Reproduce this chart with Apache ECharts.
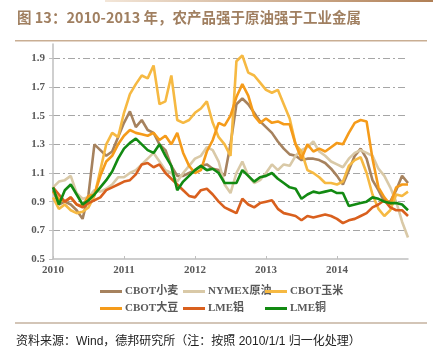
<!DOCTYPE html>
<html>
<head>
<meta charset="utf-8">
<script src="https://cdn.jsdelivr.net/npm/echarts@6/dist/echarts.min.js"></script>
<style>
html,body{margin:0;padding:0;background:#fff;}
#chart{width:433px;height:355px;}
</style>
</head>
<body>
<div id="chart"></div>
<script>
var months = ['2010-01','2010-02','2010-03','2010-04','2010-05','2010-06','2010-07','2010-08','2010-09','2010-10','2010-11','2010-12',
'2011-01','2011-02','2011-03','2011-04','2011-05','2011-06','2011-07','2011-08','2011-09','2011-10','2011-11','2011-12',
'2012-01','2012-02','2012-03','2012-04','2012-05','2012-06','2012-07','2012-08','2012-09','2012-10','2012-11','2012-12',
'2013-01','2013-02','2013-03','2013-04','2013-05','2013-06','2013-07','2013-08','2013-09','2013-10','2013-11','2013-12',
'2014-01','2014-02','2014-03','2014-04','2014-05','2014-06','2014-07','2014-08','2014-09','2014-10','2014-11','2014-12',
'2015-01'];

var yTicks = [0.5,0.7,0.9,1.1,1.3,1.5,1.7,1.9];

var wheat = [0.98,0.88,0.90,0.88,0.84,0.78,0.95,1.30,1.26,1.22,1.25,1.35,1.45,1.53,1.42,1.47,1.40,1.38,1.30,1.26,1.15,1.08,1.08,1.10,1.12,1.15,1.16,1.13,1.12,1.08,1.30,1.58,1.62,1.58,1.52,1.46,1.42,1.38,1.32,1.27,1.23,1.22,1.19,1.20,1.20,1.19,1.17,1.13,1.08,1.02,1.12,1.22,1.27,1.20,1.05,0.98,0.90,0.90,0.98,1.08,1.03];
var crude = [1.00,1.04,1.05,1.08,0.96,0.92,0.93,0.98,0.97,0.99,1.02,1.07,1.07,1.10,1.12,1.16,1.20,1.24,1.18,1.12,1.10,1.04,1.10,1.15,1.20,1.22,1.28,1.26,1.18,1.02,0.96,1.10,1.18,1.08,1.03,1.05,1.10,1.16,1.12,1.16,1.15,1.22,1.26,1.28,1.32,1.25,1.22,1.18,1.16,1.14,1.20,1.24,1.26,1.24,1.22,1.13,1.08,1.00,0.90,0.76,0.65];
var corn = [0.93,0.85,0.88,0.84,0.82,0.83,0.86,0.94,1.12,1.30,1.38,1.35,1.52,1.65,1.72,1.78,1.76,1.85,1.58,1.60,1.78,1.47,1.45,1.47,1.52,1.55,1.60,1.45,1.35,1.30,1.22,1.88,1.92,1.80,1.78,1.73,1.68,1.66,1.68,1.58,1.48,1.30,1.25,1.12,1.10,1.07,1.03,1.03,1.02,1.04,1.15,1.19,1.21,1.10,0.95,0.85,0.80,0.84,0.95,0.94,0.97];
var soy = [0.97,0.92,0.90,0.93,0.88,0.87,0.94,0.95,1.08,1.18,1.22,1.30,1.36,1.40,1.38,1.37,1.36,1.38,1.33,1.36,1.30,1.38,1.24,1.15,1.10,1.12,1.25,1.33,1.45,1.43,1.50,1.63,1.72,1.64,1.50,1.45,1.48,1.45,1.46,1.44,1.44,1.30,1.20,1.30,1.25,1.27,1.25,1.28,1.31,1.30,1.38,1.45,1.47,1.46,1.20,1.00,0.93,0.88,1.00,1.02,1.02];
var aluminum = [1.00,0.95,0.90,0.93,0.88,0.86,0.89,0.91,0.93,0.98,1.00,1.02,1.04,1.05,1.09,1.16,1.17,1.14,1.16,1.10,1.06,1.02,0.98,0.94,0.93,0.98,0.99,0.95,0.90,0.86,0.84,0.82,0.92,0.88,0.86,0.89,0.90,0.91,0.85,0.82,0.81,0.80,0.77,0.80,0.79,0.80,0.81,0.80,0.78,0.75,0.77,0.78,0.80,0.82,0.86,0.88,0.91,0.86,0.84,0.84,0.80];
var copper = [1.00,0.88,0.98,1.02,0.95,0.88,0.91,0.95,1.00,1.05,1.11,1.20,1.27,1.31,1.34,1.30,1.26,1.24,1.30,1.22,1.15,0.98,1.04,1.08,1.12,1.15,1.12,1.13,1.10,1.03,1.03,1.03,1.12,1.08,1.04,1.07,1.08,1.10,1.06,1.03,1.00,0.99,0.92,0.95,0.97,0.96,0.97,0.98,0.96,0.96,0.87,0.88,0.89,0.90,0.93,0.92,0.90,0.89,0.89,0.88,0.84];

var names = ['CBOT小麦','NYMEX原油','CBOT玉米','CBOT大豆','LME铝','LME铜'];
var colors = ['#A6825E','#D9C9A7','#F6B942','#F59B1A','#D9601E','#128A12'];

var chart = echarts.init(document.getElementById('chart'), null, {renderer:'canvas'});

var serifFont = '"Liberation Serif","Noto Sans CJK SC",serif';
var legendPos = [[100,286],[183,286],[265,286],[100,303],[183,303],[265,303]];
var legends = names.map(function(n,i){
  return {
    data:[n], left:legendPos[i][0], top:legendPos[i][1], padding:0,
    icon:'rect', itemWidth:22, itemHeight:3, itemGap:0,
    textStyle:{fontFamily:serifFont, fontSize:11, fontWeight:'bold', color:'#595959', padding:[0,0,0,-2]},
    selectedMode:false
  };
});

var dataSets = [wheat, crude, corn, soy, aluminum, copper];
var order = [1,0,2,3,4,5];
var series = order.map(function(i){
  return {
    name:names[i], type:'line', data:dataSets[i], symbol:'none', smooth:false,
    lineStyle:{width:2.6, color:colors[i]}, itemStyle:{color:colors[i]},
    z: 2+i
  };
});

chart.setOption({
  animation:false,
  backgroundColor:'#fff',
  color:colors,
  grid:{left:53, right:25, top:44, bottom:96, containLabel:false},
  legend:legends,
  xAxis:{
    type:'category', data:months, boundaryGap:false,
    axisLine:{lineStyle:{color:'#BFBFBF', width:1.5}},
    axisTick:{inside:true, length:3, interval:function(idx){return idx%12===0 && idx<60;}, lineStyle:{color:'#BFBFBF'}},
    axisLabel:{interval:function(idx){return idx%12===0 && idx<60;}, formatter:function(v){return v.slice(0,4);},
      fontFamily:serifFont, fontSize:11, fontWeight:'bold', color:'#595959', margin:6},
    splitLine:{show:false}
  },
  yAxis:{
    type:'value', min:0.5, max:2.0, interval:0.2,
    axisLine:{show:true, lineStyle:{color:'#BFBFBF', width:1.5}},
    axisTick:{show:true, length:4, lineStyle:{color:'#BFBFBF'}},
    axisLabel:{showMaxLabel:false, formatter:function(v){
        for (var j=0;j<yTicks.length;j++){ if (Math.abs(yTicks[j]-v)<1e-6) return yTicks[j].toFixed(1); }
        return '';
      }, fontFamily:serifFont, fontSize:11, fontWeight:'bold', color:'#595959', margin:8},
    splitLine:{show:true, showMinLine:false, showMaxLine:false, lineStyle:{color:'#A6A6A6', width:1, type:[7,3,2,3]}}
  },
  graphic:[
    {type:'rect', shape:{x:105,y:0,width:328,height:2}, style:{fill:new echarts.graphic.LinearGradient(0,0,1,0,[{offset:0,color:'#F3E6D8'},{offset:1,color:'#B07F55'}])}, silent:true},
    {type:'text', left:17, top:10, style:{text:'图 13：2010-2013 年，农产品强于原油强于工业金属', font:'bold 14.5px "Noto Sans CJK SC","Noto Sans",sans-serif', fill:'#A07F60'}},
    {type:'rect', shape:{x:15,y:40,width:412,height:1.5}, style:{fill:'#C9AE93'}, silent:true},
    {type:'rect', shape:{x:15,y:322.5,width:412,height:1}, style:{fill:'#A88B70'}, silent:true},
    {type:'text', left:16, top:336, style:{text:'资料来源：Wind，德邦研究所（注：按照 2010/1/1 归一化处理）', font:'12px "Liberation Sans","Noto Sans CJK SC",sans-serif', fill:'#222'}}
  ],
  series:series
});
</script>
</body>
</html>
